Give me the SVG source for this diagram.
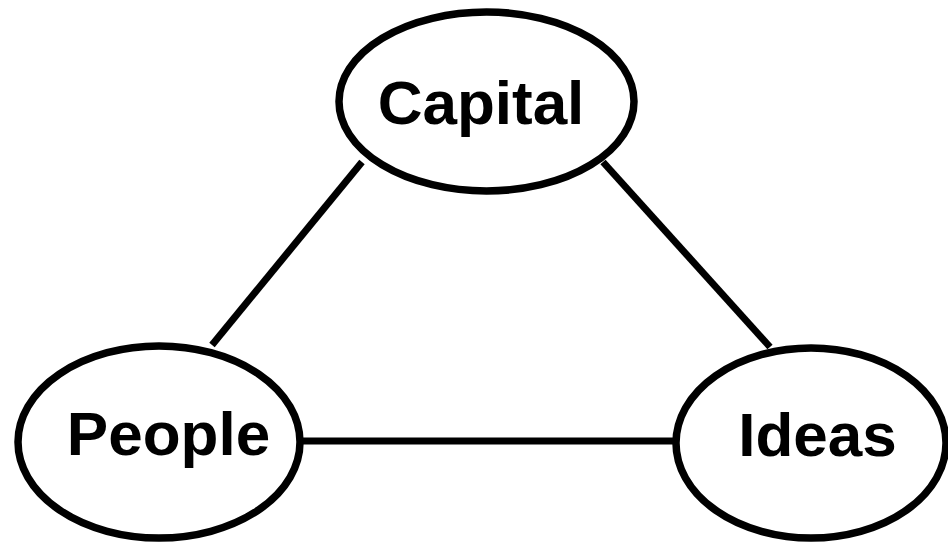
<svg xmlns="http://www.w3.org/2000/svg" width="948" height="547" viewBox="0 0 948 547">
  <style>
    .node { fill: #ffffff; stroke: #000000; stroke-width: 7.5; }
    .edge { stroke: #000000; stroke-width: 7; stroke-linecap: butt; fill: none; }
    .label { font-family: "Liberation Sans", Arial, sans-serif; font-weight: bold; font-size: 62px; fill: #000000; text-anchor: middle; }
  </style>
  <rect x="0" y="0" width="948" height="547" fill="#ffffff"/>
  <g id="connectors">
    <line class="edge" x1="362" y1="162" x2="212" y2="345"/>
    <line class="edge" x1="603" y1="162" x2="770" y2="347"/>
    <line class="edge" x1="300" y1="441" x2="676" y2="441"/>
  </g>
  <g id="capital">
    <ellipse class="node" cx="486.5" cy="101.5" rx="147.5" ry="89.5"/>
    <text class="label" x="481" y="124">Capital</text>
  </g>
  <g id="people">
    <ellipse class="node" cx="159" cy="442" rx="141" ry="96"/>
    <text class="label" x="168.5" y="455">People</text>
  </g>
  <g id="ideas">
    <ellipse class="node" cx="811" cy="443" rx="135" ry="95"/>
    <text class="label" x="817.5" y="456">Ideas</text>
  </g>
</svg>
